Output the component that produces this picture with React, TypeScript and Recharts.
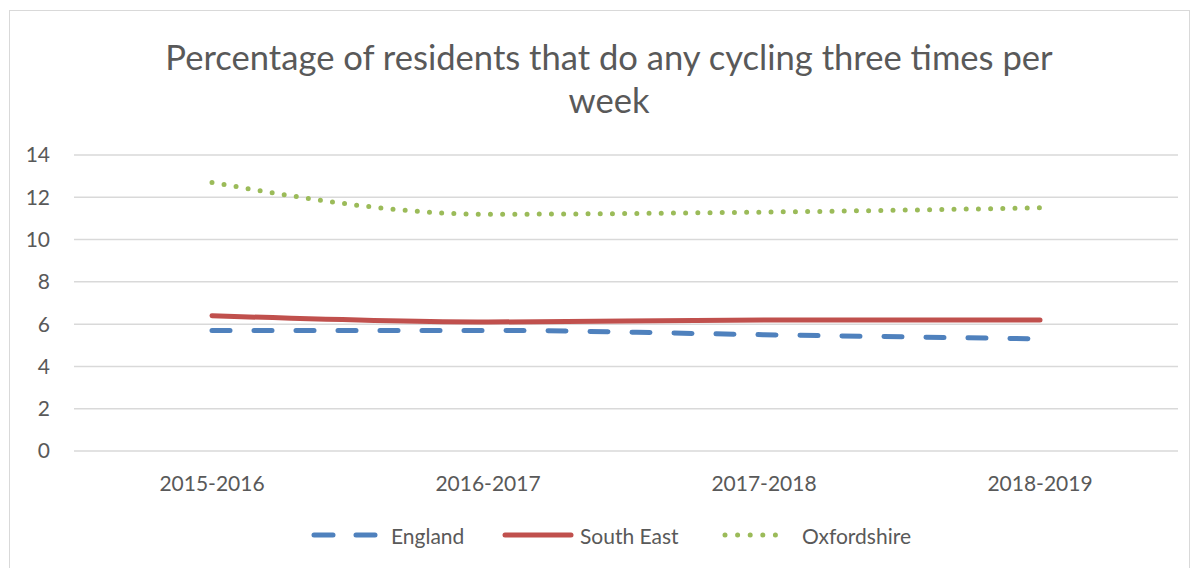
import React from 'react';
import { LineChart, Line, XAxis, YAxis, CartesianGrid } from 'recharts';

const categories = ['2015-2016', '2016-2017', '2017-2018', '2018-2019'];
const england = [5.7, 5.7, 5.5, 5.3];
const southEast = [6.4, 6.1, 6.2, 6.2];
const oxfordshire = [12.7, 11.2, 11.3, 11.5];
const yTicks = [0, 2, 4, 6, 8, 10, 12, 14];
const seriesNames = ['England', 'South East', 'Oxfordshire'];
const titleLines = ['Percentage of residents that do any cycling three times per', 'week'];

const COLORS = ['#4F81BD', '#C0504D', '#9BBB59'];
const FONT = 'Lato, "Open Sans", sans-serif';
const TXT = '#595959';

const data = categories.map((c, i) => ({
  cat: c,
  england: england[i],
  southEast: southEast[i],
  oxfordshire: oxfordshire[i],
}));

const LegendIcon = ({ idx }: { idx: number }) => {
  if (idx === 0) {
    return (
      <svg width={68} height={10} style={{ display: 'block' }}>
        <line x1={3} y1={5} x2={65} y2={5} stroke={COLORS[0]} strokeWidth={5} strokeLinecap="round" strokeDasharray="19 23" />
      </svg>
    );
  }
  if (idx === 1) {
    return (
      <svg width={72} height={10} style={{ display: 'block' }}>
        <line x1={3} y1={5} x2={69} y2={5} stroke={COLORS[1]} strokeWidth={5} strokeLinecap="round" />
      </svg>
    );
  }
  return (
    <svg width={68} height={10} style={{ display: 'block' }}>
      <line x1={3} y1={5} x2={66} y2={5} stroke={COLORS[2]} strokeWidth={5} strokeLinecap="round" strokeDasharray="0 12.6" />
    </svg>
  );
};

export default function App() {
  const textGaps = [12, 6, 12];
  const itemLefts = [311, 502, 722];
  return (
    <div style={{ position: 'absolute', left: 0, top: 0, width: 1198, height: 568, overflow: 'hidden', background: '#fff' }}>
      <div style={{ position: 'absolute', left: 9, top: 10, width: 1181, height: 600, border: '1px solid #d9d9d9', boxSizing: 'border-box' }} />
      <div style={{ position: 'absolute', left: 0, top: 0 }}>
        <LineChart width={1198} height={568} data={data} margin={{ top: 155, right: 20, left: 0, bottom: 57 }}>
          <CartesianGrid vertical={false} stroke="#d9d9d9" strokeWidth={1.5} />
          <XAxis
            dataKey="cat"
            axisLine={false}
            tickLine={false}
            tickSize={0}
            tickMargin={25}
            height={60}
            padding={{ left: 138, right: 138 }}
            tick={{ fill: TXT, fontSize: 21, fontFamily: FONT }}
          />
          <YAxis
            domain={[0, 14]}
            ticks={yTicks}
            axisLine={false}
            tickLine={false}
            tickSize={0}
            tickMargin={24}
            width={74}
            tick={{ fill: TXT, fontSize: 21, fontFamily: FONT }}
          />
          <Line type="monotone" dataKey="england" name={seriesNames[0]} stroke={COLORS[0]} strokeWidth={5} strokeLinecap="round" strokeDasharray="18 24" dot={false} activeDot={false} isAnimationActive={false} />
          <Line type="monotone" dataKey="southEast" name={seriesNames[1]} stroke={COLORS[1]} strokeWidth={5} strokeLinecap="round" dot={false} activeDot={false} isAnimationActive={false} />
          <Line type="monotone" dataKey="oxfordshire" name={seriesNames[2]} stroke={COLORS[2]} strokeWidth={5} strokeLinecap="round" strokeDasharray="0 12.2" dot={false} activeDot={false} isAnimationActive={false} />
        </LineChart>
      </div>
      {titleLines.map((t, i) => (
        <div
          key={i}
          style={{
            position: 'absolute',
            left: 0,
            width: 1218,
            top: 57 + i * 43 - 22,
            height: 44,
            lineHeight: '44px',
            textAlign: 'center',
            fontFamily: FONT,
            fontSize: 34.6,
            color: TXT,
            whiteSpace: 'nowrap',
          }}
        >
          {t}
        </div>
      ))}
      {seriesNames.map((n, i) => (
        <div
          key={n}
          style={{
            position: 'absolute',
            left: itemLefts[i],
            top: 535 - 14,
            height: 28,
            display: 'flex',
            alignItems: 'center',
            fontFamily: FONT,
            fontSize: 21,
            color: TXT,
            whiteSpace: 'nowrap',
          }}
        >
          <LegendIcon idx={i} />
          <span style={{ marginLeft: textGaps[i] }}>{n}</span>
        </div>
      ))}
    </div>
  );
}
